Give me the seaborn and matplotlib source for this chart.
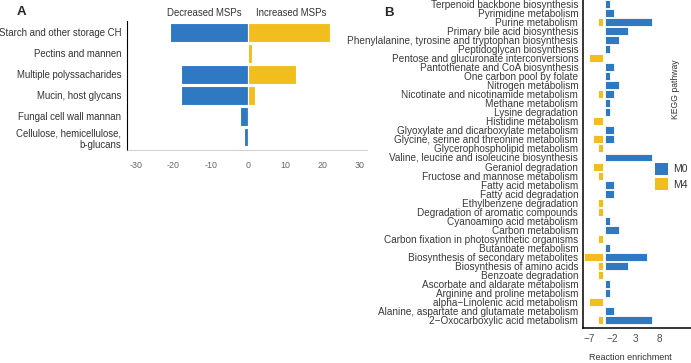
import pandas as pd
import seaborn as sns
import matplotlib.pyplot as plt
from matplotlib.patches import Patch

# Panel A data
a_categories = ["Starch and other storage CH", "Pectins and mannen",
                "Multiple polyssacharides", "Mucin, host glycans",
                "Fungal cell wall mannan", "Cellulose, hemicellulose,\nb-glucans"]
a_decreased = [-21, 0, -18, -18, -2, -1]
a_increased = [22, 1, 13, 2, 0, 0]
a_ticks = [-30, -20, -10, 0, 10, 20, 30]

# Panel B data
b_pathways = [
    "Terpenoid backbone biosynthesis", "Pyrimidine metabolism", "Purine metabolism",
    "Primary bile acid biosynthesis", "Phenylalanine, tyrosine and tryptophan biosynthesis",
    "Peptidoglycan biosynthesis", "Pentose and glucuronate interconversions",
    "Pantothenate and CoA biosynthesis", "One carbon pool by folate", "Nitrogen metabolism",
    "Nicotinate and nicotinamide metabolism", "Methane metabolism", "Lysine degradation",
    "Histidine metabolism", "Glyoxylate and dicarboxylate metabolism",
    "Glycine, serine and threonine metabolism", "Glycerophospholipid metabolism",
    "Valine, leucine and isoleucine biosynthesis", "Geraniol degradation",
    "Fructose and mannose metabolism", "Fatty acid metabolism", "Fatty acid degradation",
    "Ethylbenzene degradation", "Degradation of aromatic compounds",
    "Cyanoamino acid metabolism", "Carbon metabolism",
    "Carbon fixation in photosynthetic organisms", "Butanoate metabolism",
    "Biosynthesis of secondary metabolites", "Biosynthesis of amino acids",
    "Benzoate degradation", "Ascorbate and aldarate metabolism",
    "Arginine and proline metabolism", "alpha\u2212Linolenic acid metabolism",
    "Alanine, aspartate and glutamate metabolism", "2\u2212Oxocarboxylic acid metabolism"]
b_m0 = [1, 2, 10, 5, 3, 1, 0, 2, 1, 3, 2, 1, 1, 0, 2, 2, 0, 10,
        0, 0, 2, 2, 0, 0, 1, 3, 0, 1, 9, 5, 0, 1, 1, 0, 2, 10]
b_m4 = [0, 0, 1, 0, 0, 0, 3, 0, 0, 0, 1, 0, 0, 2, 0, 2, 1, 0,
        2, 1, 0, 0, 1, 1, 0, 0, 1, 0, 4, 1, 1, 0, 0, 3, 0, 1]
b_ticks = [-7, -2, 3, 8]

BLUE = "#2F78C2"
YELLOW = "#F1BE1E"
M0_BASE = -3.6
M4_BASE = -4.1

sns.set_theme(style="white")
plt.rcParams['font.family'] = ['Liberation Sans', 'DejaVu Sans']

fig = plt.figure(figsize=(6.91, 3.63), dpi=100)

# ---- Panel A
axA = fig.add_axes([127/691, 1-150/363, 240/691, 129/363])
dfa = pd.DataFrame({
    "category": a_categories * 2,
    "value": a_decreased + a_increased,
    "direction": ["Decreased MSPs"] * 6 + ["Increased MSPs"] * 6,
})
sns.barplot(data=dfa, x="value", y="category", hue="direction", dodge=False,
            palette=[BLUE, YELLOW], saturation=1, width=0.9, edgecolor="white",
            linewidth=0.8, errorbar=None, legend=False, ax=axA)
axA.set_xlim(-32.5, 32)
axA.set_ylim(5.62, -0.55)
axA.set_xticks(a_ticks)
axA.set_xticklabels([str(t) for t in a_ticks])
axA.set_xlabel("")
axA.set_ylabel("")
for s in ["top", "right"]:
    axA.spines[s].set_visible(False)
axA.spines["left"].set_color("black")
axA.spines["left"].set_linewidth(0.8)
axA.spines["bottom"].set_color("#bbbbbb")
axA.spines["bottom"].set_linewidth(0.5)
axA.tick_params(axis="y", labelsize=6.9, labelcolor="#333333", length=2,
                color="#888888", width=0.5, pad=2)
axA.tick_params(axis="x", labelsize=6.4, labelcolor="#666666", length=2,
                color="#bbbbbb", width=0.5, pad=6)
axA.text(-11.7, 1.06, "Decreased MSPs", transform=axA.get_xaxis_transform(),
         ha="center", va="center", fontsize=6.9, color="#333333")
axA.text(11.7, 1.06, "Increased MSPs", transform=axA.get_xaxis_transform(),
         ha="center", va="center", fontsize=6.9, color="#333333")
fig.text(17/691, 1-12/363, "A", fontsize=9.5, fontweight="bold", ha="left", va="center")

# ---- Panel B
axB = fig.add_axes([583/691, 1-328/363, 108/691, 328/363])
ypos = list(range(len(b_pathways)))
axB.barh(ypos, b_m0, left=M0_BASE, height=0.88, color=BLUE,
         edgecolor="white", linewidth=0.6)
axB.barh(ypos, [-v for v in b_m4], left=M4_BASE, height=0.88, color=YELLOW,
         edgecolor="white", linewidth=0.6)
axB.set_xlim(-8.35, 14.8)
axB.set_ylim(35.88, -0.44)
axB.set_yticks(ypos)
axB.set_yticklabels(b_pathways)
axB.set_xticks(b_ticks)
axB.set_xticklabels([str(t).replace("-", "\u2212") for t in b_ticks])
for s in ["top", "right"]:
    axB.spines[s].set_visible(False)
for s in ["left", "bottom"]:
    axB.spines[s].set_color("black")
    axB.spines[s].set_linewidth(1.1)
axB.tick_params(axis="y", labelsize=7.2, labelcolor="#3a3a3a", length=2.5,
                color="#333333", width=0.6, pad=1)
axB.tick_params(axis="x", labelsize=7.2, labelcolor="#4d4d4d", length=2.5,
                color="#333333", width=0.6, pad=1.5)
axB.set_xlabel("")
fig.text(630/691, 1-358/363, "Reaction enrichment", fontsize=6.5,
         color="#333333", ha="center", va="center")
fig.text(676/691, 1-89/363, "KEGG pathway", fontsize=6.2, color="#333333",
         rotation=90, ha="center", va="center")
fig.text(389/691, 1-13/363, "B", fontsize=9.5, fontweight="bold", ha="center", va="center")

handles = [Patch(facecolor=BLUE, edgecolor="none", label="M0"),
           Patch(facecolor=YELLOW, edgecolor="none", label="M4")]
fig.legend(handles=handles, loc="upper left", bbox_to_anchor=(655/691, 1-163/363),
           bbox_transform=fig.transFigure, frameon=False, fontsize=7.5,
           handlelength=1.2, handleheight=1.35, labelspacing=0.35,
           handletextpad=0.55, borderpad=0, borderaxespad=0, labelcolor="#333333")

fig.savefig("out.png", dpi=100)
